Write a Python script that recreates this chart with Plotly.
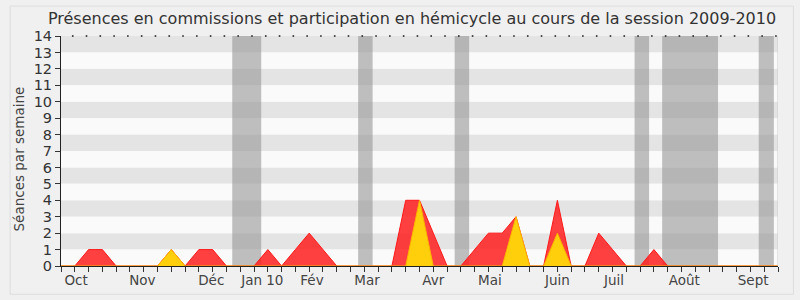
import plotly.graph_objects as go

weeks = list(range(53))
commissions = [0, 0, 1, 1, 0, 0, 0, 0, 1, 0, 1, 1, 0, 0, 0, 1, 0, 1, 2, 1, 0, 0, 0, 0, 0, 4, 4, 2, 0, 0,
               1, 2, 2, 3, 0, 0, 4, 0, 0, 2, 1, 0, 0, 1, 0, 0, 0, 0, 0, 0, 0, 0, 0]
hemicycle = [0, 0, 0, 0, 0, 0, 0, 0, 1, 0, 0, 0, 0, 0, 0, 0, 0, 0, 0, 0, 0, 0, 0, 0, 0, 0, 4, 0, 0, 0,
             0, 0, 0, 3, 0, 0, 2, 0, 0, 0, 0, 0, 0, 0, 0, 0, 0, 0, 0, 0, 0, 0, 0]
vacances = [(12.42, 14.52), (21.55, 22.6), (28.55, 29.6), (41.6, 42.65), (43.6, 47.65), (50.6, 51.7)]
month_pos = [1.1, 5.9, 10.9, 14.6, 18.2, 22.2, 27.0, 31.1, 36.0, 40.1, 45.2, 50.2]
month_labels = ["Oct", "Nov", "Déc", "Jan 10", "Fév", "Mar", "Avr", "Mai", "Juin", "Juil", "Août", "Sept"]
y_ticks = list(range(15))

fig = go.Figure()

shapes = []
for k in range(1, 14, 2):
    shapes.append(dict(type="rect", xref="x", yref="y", x0=0, x1=52, y0=k, y1=k + 1,
                       fillcolor="#e4e4e4", line_width=0, layer="below"))
for k in range(0, 14, 2):
    shapes.append(dict(type="rect", xref="x", yref="y", x0=0, x1=52, y0=k, y1=k + 1,
                       fillcolor="#fafafa", line_width=0, layer="below"))
for a, b in vacances:
    shapes.append(dict(type="rect", xref="x", yref="y", x0=a, x1=b, y0=0, y1=14,
                       fillcolor="rgba(150,150,150,0.6)", line_width=0, layer="below"))
shapes.append(dict(type="line", xref="x", yref="y", x0=52, x1=52, y0=0, y1=14,
                   line=dict(color="#cccccc", width=1)))
shapes.append(dict(type="rect", xref="paper", yref="paper", x0=-0.071, x1=1.0215, y0=-0.123, y1=1.13,
                   line=dict(color="#dddddd", width=1), fillcolor="rgba(0,0,0,0)", layer="below"))

fig.add_trace(go.Scatter(x=weeks, y=commissions, mode="lines", fill="tozeroy",
                         fillcolor="rgba(255,30,30,0.85)", line=dict(color="#ff1a1a", width=1),
                         hoverinfo="skip", showlegend=False))
fig.add_trace(go.Scatter(x=weeks, y=hemicycle, mode="lines", fill="tozeroy",
                         fillcolor="rgba(255,212,10,0.97)", line=dict(color="#ffb400", width=1),
                         hoverinfo="skip", showlegend=False))
fig.add_trace(go.Scatter(x=[w - 0.15 for w in weeks], y=[14] * len(weeks), mode="markers",
                         marker=dict(size=1.6, color="#222222", symbol="square"),
                         hoverinfo="skip", showlegend=False, cliponaxis=False))

fig.update_layout(
    width=800, height=300,
    margin=dict(l=61, r=22, t=36, b=34),
    paper_bgcolor="#f0f0f0", plot_bgcolor="#fafafa",
    font=dict(family="DejaVu Sans", color="#333333"),
    title=dict(text="Présences en commissions et participation en hémicycle au cours de la session 2009-2010",
               x=0.515, xanchor="center", y=0.94, yanchor="middle",
               font=dict(size=16, color="#333333")),
    shapes=shapes,
    annotations=[dict(text="Séances par semaine", xref="paper", yref="paper", x=-0.058, y=0.465,
                      xanchor="center", yanchor="middle", textangle=-90, showarrow=False,
                      font=dict(size=13.5, color="#444444"))],
    xaxis=dict(range=[0, 52], tickmode="array", tickvals=weeks, ticktext=[""] * len(weeks),
               ticks="outside", ticklen=5, tickcolor="#333333", showgrid=False, zeroline=False,
               showline=True, linecolor="#222222", linewidth=1, layer="above traces", fixedrange=True),
    xaxis2=dict(range=[0, 52], overlaying="x", side="bottom", tickmode="array", tickvals=month_pos,
                ticktext=month_labels, ticks="", showgrid=False, zeroline=False, showline=False,
                tickfont=dict(size=13.5, color="#444444"), anchor="y", ticklabelstandoff=4),
    yaxis=dict(range=[0, 14], tickmode="array", tickvals=y_ticks, ticktext=[str(v) for v in y_ticks],
               ticks="outside", ticklen=5, tickcolor="#333333", showgrid=False, zeroline=False,
               showline=True, linecolor="#222222", linewidth=1, tickfont=dict(size=14.5, color="#333333"),
               fixedrange=True),
)
fig.add_trace(go.Scatter(x=[0], y=[0], xaxis="x2", mode="markers", marker=dict(opacity=0),
                         hoverinfo="skip", showlegend=False))

fig.write_html("out.html")
